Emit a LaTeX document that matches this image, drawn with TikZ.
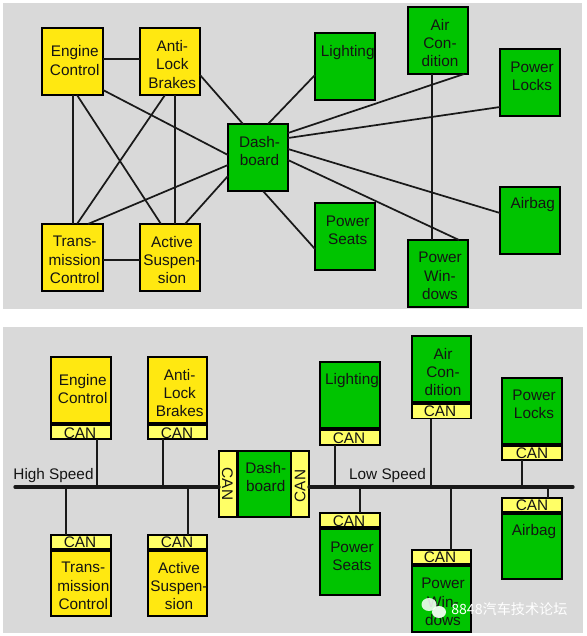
\documentclass[tikz,border=0pt]{standalone}
\usepackage{fontspec}
\setmainfont{Liberation Sans}
\newfontfamily\cjkwm{Noto Sans CJK SC}
\usetikzlibrary{fit}
\definecolor{panelgray}{HTML}{D9D9D9}
\definecolor{ecuyellow}{HTML}{FFE811}
\definecolor{ecugreen}{HTML}{00C400}
\definecolor{canyellow}{HTML}{FFFF66}
\definecolor{inkdark}{HTML}{141414}
\tikzset{
  panel/.style={fill=panelgray,draw=none},
  unitbox/.style={draw=black,line width=1.6pt,inner sep=0pt,outer sep=0pt},
  yellowbox/.style={unitbox,fill=ecuyellow},
  greenbox/.style={unitbox,fill=ecugreen},
  canbox/.style={draw=black,line width=1.4pt,inner sep=0pt,outer sep=0pt,fill=canyellow},
  lab/.style={font=\fontsize{11.5}{13.7}\selectfont,align=center,inner sep=0pt,text=inkdark},
  canlab/.style={font=\fontsize{11.5}{13}\selectfont,inner sep=0pt,text=inkdark},
  wire/.style={line width=1.3pt,draw=black!90},
  thickwire/.style={line width=2.1pt,draw=black!90},
  buswire/.style={line width=2.5pt,draw=black!90,line cap=round},
  drop/.style={line width=1.6pt,draw=black!90},
}
\newcommand{\unit}[6]{\node[#6,fit={(#2,#3) (#4,#5)}] (#1) {};}
\begin{document}
\begin{tikzpicture}[x=0.75pt,y=-0.75pt]
\useasboundingbox (0,0) rectangle (586,636);
\fill[panel] (3,3) rectangle (582,309);
\fill[panel] (3,327) rectangle (583,633);

% ---------- top panel ----------
\unit{eng}{42}{28}{103}{95}{yellowbox}
\unit{abs}{140}{28}{200}{95}{yellowbox}
\unit{tra}{42}{224}{103}{291}{yellowbox}
\unit{act}{140}{224}{200}{291}{yellowbox}
\unit{dash}{228}{124}{288}{191}{greenbox}
\unit{lig}{315}{33}{375}{100}{greenbox}
\unit{air}{408}{7}{468}{74}{greenbox}
\unit{loc}{500}{49}{560}{116}{greenbox}
\unit{bag}{500}{187}{560}{254}{greenbox}
\unit{sea}{315}{203}{375}{270}{greenbox}
\unit{win}{408}{240}{468}{307}{greenbox}

\draw[wire] (eng.east |- 0,59) -- (abs.west |- 0,59);
\draw[thickwire,line width=1.7pt] (73,0 |- eng.south) -- (73,0 |- tra.north);
\draw[wire] (77,0 |- eng.south) -- (161,0 |- act.north);
\draw[wire] (eng.east |- 0,90) -- (dash.west |- 0,155);
\draw[wire] (165,0 |- abs.south) -- (77,0 |- tra.north);
\draw[thickwire] (175,0 |- abs.south) -- (175,0 |- act.north);
\draw[wire] (abs.east |- 0,75) -- (243,0 |- dash.north);
\draw[wire] (88,0 |- tra.north) -- (dash.west |- 0,165);
\draw[wire] (tra.east |- 0,260) -- (act.west |- 0,260);
\draw[wire] (185,0 |- act.north) -- (dash.west |- 0,176);
\draw[wire] (268,0 |- dash.north) -- (lig.west |- 0,75);
\draw[wire] (dash.east |- 0,133) -- (464,0 |- air.south);
\draw[wire] (dash.east |- 0,138) -- (loc.west |- 0,107);
\draw[wire] (dash.east |- 0,149) -- (bag.west |- 0,213);
\draw[wire] (dash.east |- 0,160) -- (459,0 |- win.north);
\draw[wire] (263,0 |- dash.south) -- (sea.west |- 0,249);
\draw[wire,line width=1.4pt] (432,0 |- air.south) -- (432,0 |- win.north);

\node[lab] (tEng) at (74.7,60.5) {Engine\\Control};
\node[lab] (tAbs) at (172.3,64.5) {Anti-\\Lock\\Brakes};
\node[lab] (tTra) at (74.7,260) {Trans-\\mission\\Control};
\node[lab] (tAct) at (172,260) {Active\\Suspen-\\sion};
\node[lab] (tDash) at (259.5,151) {Dash-\\board};
\node[lab] (tLig) at (347.7,52.5) {Lighting};
\node[lab] (tAir) at (440,43) {Air\\Con-\\dition};
\node[lab] (tLoc) at (532,76) {Power\\Locks};
\node[lab] (tBag) at (532.7,205) {Airbag};
\node[lab] (tSea) at (347.7,230) {Power\\Seats};
\node[lab] (tWin) at (440,276) {Power\\Win-\\dows};

% ---------- bottom panel ----------
\coordinate (bus) at (15,487);
\coordinate (busEnd) at (573,487);

\unit{engB}{51}{357}{111}{423.5}{yellowbox}
\unit{engC}{51}{425}{111}{439}{canbox}
\unit{absB}{148}{357}{207}{423.5}{yellowbox}
\unit{absC}{148}{425}{207}{439}{canbox}
\unit{traC}{51}{535}{111}{549}{canbox}
\unit{traB}{51}{550.5}{111}{616}{yellowbox}
\unit{actC}{148}{535}{207}{549}{canbox}
\unit{actB}{148}{550.5}{207}{616}{yellowbox}
\unit{dashL}{219}{451}{237.5}{517}{canbox}
\unit{dashB}{237.5}{451}{291}{517}{greenbox}
\unit{dashR}{291}{451}{309}{517}{canbox}
\unit{ligB}{320}{362}{380}{428.5}{greenbox}
\unit{ligC}{320}{430}{380}{445}{canbox}
\unit{airB}{412}{336}{471}{402.5}{greenbox}
\unit{airC}{412}{404}{471}{418.5}{canbox}
\unit{locB}{502}{378}{562}{444.5}{greenbox}
\unit{locC}{502}{446}{562}{460}{canbox}
\unit{seaC}{320}{513}{380}{527}{canbox}
\unit{seaB}{320}{528.5}{380}{595}{greenbox}
\unit{bagC}{502}{498}{562}{512}{canbox}
\unit{bagB}{502}{513.5}{562}{579}{greenbox}
\unit{winC}{412}{550}{471}{564}{canbox}
\unit{winB}{412}{565.5}{471}{632}{greenbox}

\draw[buswire] (bus) -- (dashL.west |- bus);
\draw[buswire] (dashR.east |- bus) -- (busEnd);
\draw[drop] (97,0 |- engC.south) -- (97,0 |- bus);
\draw[drop] (162.7,0 |- absC.south) -- (162.7,0 |- bus);
\draw[drop] (66,0 |- bus) -- (66,0 |- traC.north);
\draw[drop,line width=1.9pt] (188,0 |- bus) -- (188,0 |- actC.north);
\draw[drop] (335,0 |- ligC.south) -- (335,0 |- bus);
\draw[drop] (360,0 |- bus) -- (360,0 |- seaC.north);
\draw[drop] (431,0 |- airC.south) -- (431,0 |- bus);
\draw[drop] (451,0 |- bus) -- (451,0 |- winC.north);
\draw[drop] (522,0 |- locC.south) -- (522,0 |- bus);
\draw[drop,line width=1.3pt] (548,0 |- bus) -- (548,0 |- bagC.north);

\node[lab] (hs) at (53.5,475.5) {High Speed};
\node[lab] (ls) at (387.5,475.5) {Low Speed};

\node[lab] (bEng) at (82.7,389) {Engine\\Control};
\node[lab] (bAbs) at (179.7,393) {Anti-\\Lock\\Brakes};
\node[lab] (bTra) at (83.3,586) {Trans-\\mission\\Control};
\node[lab] (bAct) at (179,586) {Active\\Suspen-\\sion};
\node[lab] (bDash) at (265.7,477) {Dash-\\board};
\node[lab] (bLig) at (352,381) {Lighting};
\node[lab] (bAir) at (443,372) {Air\\Con-\\dition};
\node[lab] (bLoc) at (534,404) {Power\\Locks};
\node[lab] (bBag) at (534,532) {Airbag};
\node[lab] (bSea) at (352,556) {Power\\Seats};
\node[lab] (bWin) at (443,602) {Power\\Win-\\dows};

\node[canlab] (cEng) at (80,433) {CAN};
\node[canlab] (cAbs) at (177,433) {CAN};
\node[canlab] (cTra) at (80,542) {CAN};
\node[canlab] (cAct) at (177,542) {CAN};
\node[canlab,rotate=-90] (cDL) at (227.5,484) {CAN};
\node[canlab,rotate=90] (cDR) at (300,486) {CAN};
\node[canlab] (cLig) at (349,438) {CAN};
\node[canlab] (cAir) at (440,411) {CAN};
\node[canlab] (cLoc) at (532,453) {CAN};
\node[canlab] (cBag) at (532,505) {CAN};
\node[canlab] (cSea) at (349,521) {CAN};
\node[canlab] (cWin) at (440,557) {CAN};

% ---------- watermark ----------
\fill[white,opacity=.85] (429,604.5) ellipse (7.5 and 6.5);
\fill[white,opacity=.9] (439,612) ellipse (7 and 6);
\node[font=\fontsize{10.6}{12}\cjkwm,text=white,inner sep=0pt,anchor=west] (wm) at (451,609) {8848汽车技术论坛};
\end{tikzpicture}
\end{document}
